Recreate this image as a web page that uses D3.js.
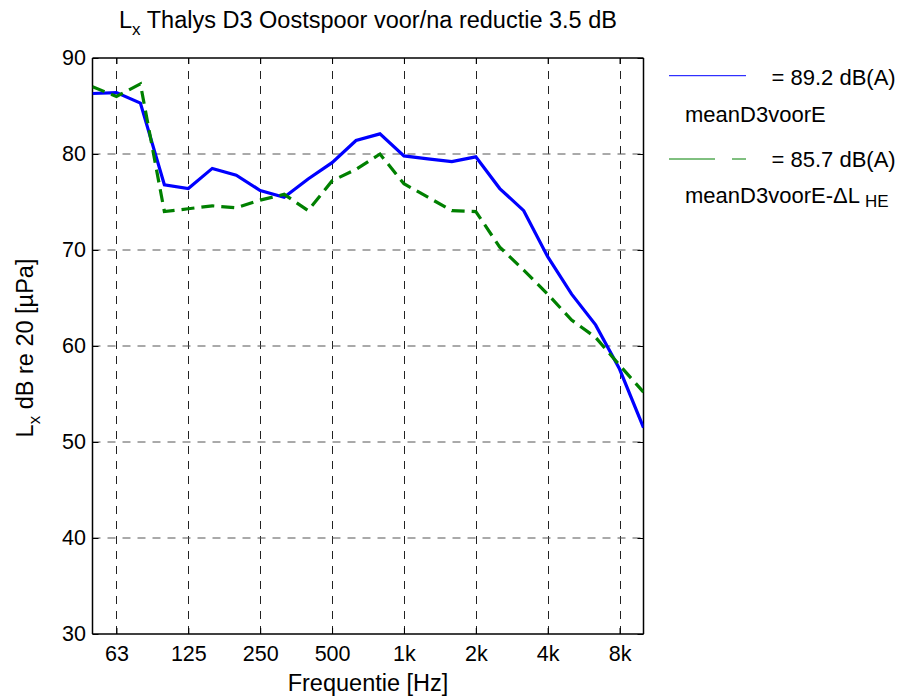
<!DOCTYPE html>
<html>
<head>
<meta charset="utf-8">
<script src="https://cdn.jsdelivr.net/npm/d3@7"></script>
<style>
  html, body { margin: 0; padding: 0; background: #fff; }
  svg { display: block; }
  text { font-family: "Liberation Sans", Arial, Helvetica, sans-serif; fill: #000; }
</style>
</head>
<body>
<svg id="chart" width="914" height="697"></svg>
<script>
// ---- data ----
const bands = ["50","63","80","100","125","160","200","250","315","400","500","630","800","1k","1.25k","1.6k","2k","2.5k","3.15k","4k","5k","6.3k","8k","10k"];
const meanD3voorE = [86.3,86.4,85.3,76.8,76.4,78.5,77.8,76.2,75.5,77.4,79.1,81.4,82.1,79.8,79.5,79.2,79.7,76.4,74.1,69.3,65.4,62.2,57.6,51.5];
const meanD3voorE_dLHE = [87.0,86.0,87.3,74.0,74.3,74.6,74.4,75.2,75.8,74.1,77.2,78.4,80.0,76.9,75.5,74.1,74.0,70.3,67.9,65.4,62.7,60.9,58.0,55.2];
const xTickLabels = ["63","125","250","500","1k","2k","4k","8k"];
const yTicks = [30,40,50,60,70,80,90];
const legendTotals = ["= 89.2 dB(A)", "= 85.7 dB(A)"];
const legendNames = ["meanD3voorE", "meanD3voorE-"];

// ---- layout ----
const L = 92.5, R = 643.5, T = 58, B = 634;
const svg = d3.select("#chart");
const x = d3.scaleLinear().domain([0, bands.length - 1]).range([L, R]);
const y = d3.scaleLinear().domain([30, 90]).range([B, T]);
const xTickIdx = xTickLabels.map(l => bands.indexOf(l));
const FS = 21.5, FL = 23.5, FG = 22;

// grid
const grid = svg.append("g");
grid.selectAll("line.vg").data(xTickIdx).join("line")
  .attr("x1", d => Math.round(x(d)) + 0.5).attr("x2", d => Math.round(x(d)) + 0.5)
  .attr("y1", B).attr("y2", T)
  .attr("stroke", "#222").attr("stroke-width", 1).attr("stroke-dasharray", "8,7");
grid.selectAll("line.hg").data(yTicks.slice(1, -1)).join("line")
  .attr("x1", L).attr("x2", R)
  .attr("y1", d => y(d)).attr("y2", d => y(d))
  .attr("stroke", "#555").attr("stroke-width", 1).attr("stroke-dasharray", "8,7");

// axes
const fmt = i => bands[i];
const axB = svg.append("g").attr("transform", `translate(0,${B})`)
  .call(d3.axisBottom(x).tickValues(xTickIdx).tickFormat(fmt).tickSize(-6).tickPadding(12));
const axT = svg.append("g").attr("transform", `translate(0,${T})`)
  .call(d3.axisTop(x).tickValues(xTickIdx).tickFormat("").tickSize(-6));
const axL = svg.append("g").attr("transform", `translate(${L},0)`)
  .call(d3.axisLeft(y).tickValues(yTicks).tickSize(-6).tickPadding(6.5));
const axR = svg.append("g").attr("transform", `translate(${R},0)`)
  .call(d3.axisRight(y).tickValues(yTicks).tickFormat("").tickSize(-6));
[axB, axT, axL, axR].forEach(g => {
  g.selectAll("path.domain").attr("stroke", "#000").attr("stroke-width", 1.5);
  g.selectAll(".tick line").attr("stroke", "#000");
  g.selectAll("text").style("font-size", FS + "px")
    .style("font-family", '"Liberation Sans", Arial, sans-serif').attr("fill", "#000");
});
axB.select("path.domain").attr("d", `M${L},0H${R}`);
axT.select("path.domain").attr("d", `M${L},0H${R}`);
axL.select("path.domain").attr("d", `M0,${B}V${T}`);
axR.select("path.domain").attr("d", `M0,${B}V${T}`);

// lines
const line = d3.line().x((d, i) => x(i)).y(d => y(d));
svg.append("clipPath").attr("id", "clp").append("rect")
  .attr("x", L).attr("y", T).attr("width", R - L).attr("height", B - T);
const plot = svg.append("g").attr("clip-path", "url(#clp)");
plot.append("path").datum(meanD3voorE).attr("d", line)
  .attr("fill", "none").attr("stroke", "#0000ff").attr("stroke-width", 3.2)
  .attr("stroke-linejoin", "miter");
plot.append("path").datum(meanD3voorE_dLHE).attr("d", line)
  .attr("fill", "none").attr("stroke", "#008000").attr("stroke-width", 3.2)
  .attr("stroke-dasharray", "13,7");

// title
const title = svg.append("text").attr("x", (L + R) / 2).attr("y", 28)
  .attr("text-anchor", "middle").style("font-size", FL + "px");
title.append("tspan").text("L");
title.append("tspan").attr("dy", 7).style("font-size", "17px").text("x");
title.append("tspan").attr("dy", -7).text(" Thalys D3 Oostspoor voor/na reductie 3.5 dB");

// x label
svg.append("text").attr("x", (L + R) / 2).attr("y", 691)
  .attr("text-anchor", "middle").style("font-size", FL + "px").text("Frequentie [Hz]");

// y label
const yl = svg.append("text").attr("transform", `translate(33,${(T + B) / 2 + 2}) rotate(-90)`)
  .attr("text-anchor", "middle").style("font-size", FL + "px");
yl.append("tspan").text("L");
yl.append("tspan").attr("dy", 7).style("font-size", "17px").text("x");
yl.append("tspan").attr("dy", -7).text(" dB re 20 [\u00b5Pa]");

// legend
const lg = svg.append("g");
lg.append("line").attr("x1", 669).attr("x2", 746).attr("y1", 75.7).attr("y2", 75.7)
  .attr("stroke", "#0000ff").attr("stroke-width", 1);
lg.append("text").attr("x", 771.5).attr("y", 85).style("font-size", FG + "px").text(legendTotals[0]);
lg.append("text").attr("x", 685).attr("y", 122).style("font-size", FG + "px").text(legendNames[0]);
lg.append("line").attr("x1", 669).attr("x2", 746).attr("y1", 159).attr("y2", 159)
  .attr("stroke", "#008000").attr("stroke-width", 1).attr("stroke-dasharray", "46,17");
lg.append("text").attr("x", 771.5).attr("y", 167).style("font-size", FG + "px").text(legendTotals[1]);
const l2 = lg.append("text").attr("x", 685).attr("y", 203).style("font-size", FG + "px");
l2.append("tspan").text(legendNames[1]);
l2.append("tspan").text("\u0394L");
l2.append("tspan").attr("dx", 5).attr("dy", 4).style("font-size", "17px").text("HE");
</script>
</body>
</html>
